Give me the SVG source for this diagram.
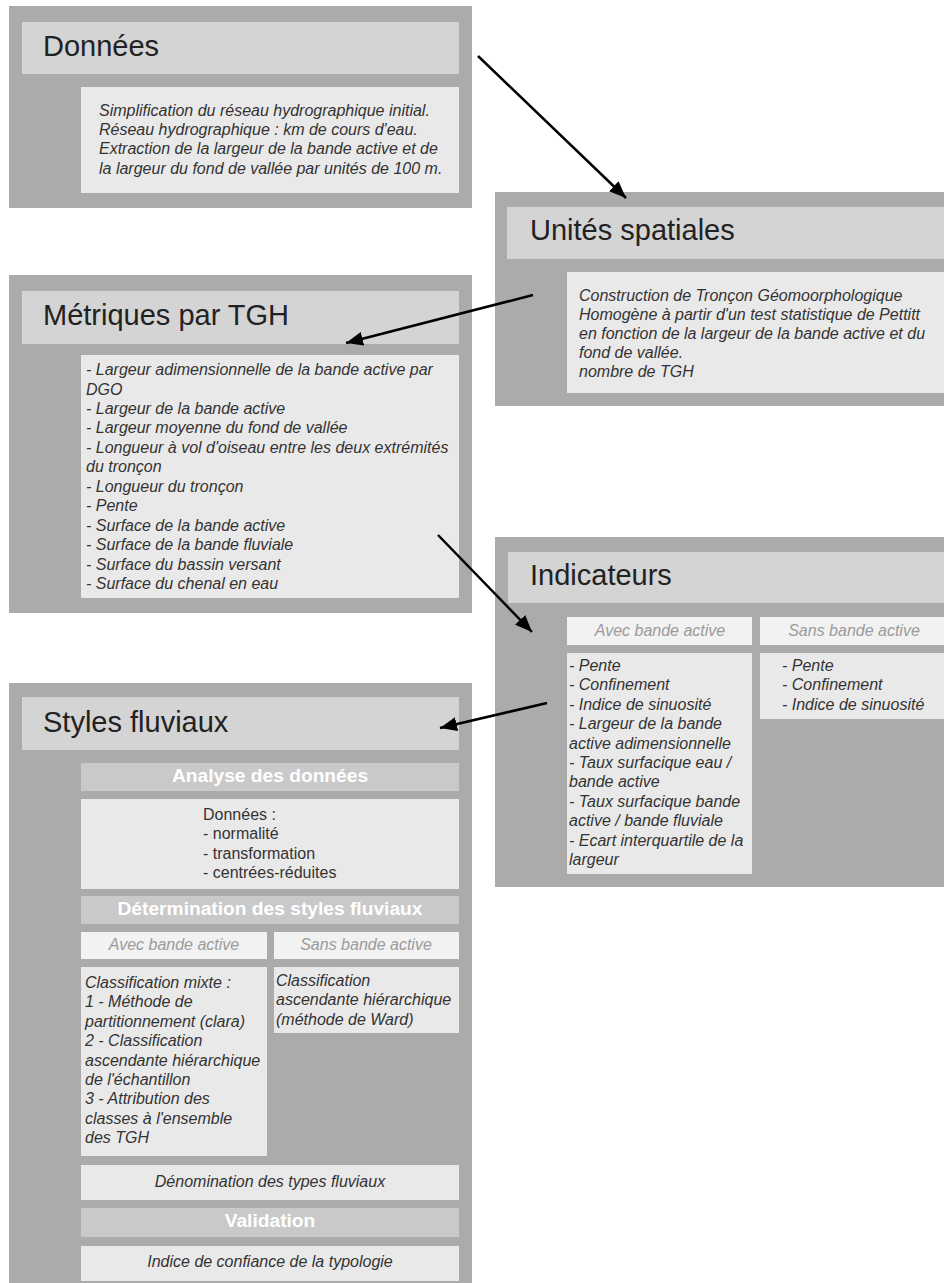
<svg xmlns="http://www.w3.org/2000/svg" width="944" height="1283" viewBox="0 0 944 1283">
<style>
.outer{fill:#aaabaa}
.head{fill:#d4d4d4}
.box{fill:#eae9e9}
.bar{fill:#c9c9c9}
.lite{fill:#f2f2f2}
.title{font-family:"Liberation Sans",Arial,sans-serif;font-size:29px;fill:#222}
.it{font-family:"Liberation Sans",Arial,sans-serif;font-size:16px;font-style:italic;fill:#333}
.rg{font-family:"Liberation Sans",Arial,sans-serif;font-size:16px;fill:#333}
.gr{font-family:"Liberation Sans",Arial,sans-serif;font-size:16px;font-style:italic;fill:#9a9a9a;text-anchor:middle}
.bw{font-family:"Liberation Sans",Arial,sans-serif;font-size:19.2px;font-weight:bold;fill:#ffffff;text-anchor:middle}
.ctr{text-anchor:middle}
.conn{stroke:#000;stroke-width:2.5;fill:none;marker-end:url(#ah)}
</style>
<defs>
<marker id="ah" markerUnits="userSpaceOnUse" markerWidth="18" markerHeight="14" refX="17" refY="7" orient="auto">
<path d="M0,0 L17,7 L0,14 z" fill="#000"/>
</marker>
</defs>
<rect width="944" height="1283" fill="#ffffff"/>

<g id="donnees">
<rect class="outer" x="9" y="6" width="463" height="202"/>
<rect class="head" x="22" y="22" width="437" height="52"/>
<text class="title" x="43" y="56">Données</text>
<rect class="box" x="81" y="87" width="378" height="106"/>
<text class="it" x="99" y="116">Simplification du réseau hydrographique initial.</text>
<text class="it" x="99" y="135.2">Réseau hydrographique : km de cours d'eau.</text>
<text class="it" x="99" y="154.4">Extraction de la largeur de la bande active et de</text>
<text class="it" x="99" y="173.6">la largeur du fond de vallée par unités de 100 m.</text>
</g>

<g id="unites">
<rect class="outer" x="495" y="192" width="460" height="214"/>
<rect class="head" x="507" y="207" width="450" height="52"/>
<text class="title" x="530" y="240">Unités spatiales</text>
<rect class="box" x="567" y="272" width="390" height="121"/>
<text class="it" x="579" y="301">Construction de Tronçon Géomoorphologique</text>
<text class="it" x="579" y="320">Homogène à partir d'un test statistique de Pettitt</text>
<text class="it" x="579" y="339">en fonction de la largeur de la bande active et du</text>
<text class="it" x="579" y="358">fond de vallée.</text>
<text class="it" x="579" y="377">nombre de TGH</text>
</g>

<g id="metriques">
<rect class="outer" x="9" y="275" width="463" height="338"/>
<rect class="head" x="22" y="291" width="437" height="53"/>
<text class="title" x="43" y="325">Métriques par TGH</text>
<rect class="box" x="81" y="355" width="378" height="243"/>
<text class="it" x="86" y="375">- Largeur adimensionnelle de la bande active par</text>
<text class="it" x="86" y="394.5">DGO</text>
<text class="it" x="86" y="414">- Largeur de la bande active</text>
<text class="it" x="86" y="433.4">- Largeur moyenne du fond de vallée</text>
<text class="it" x="86" y="452.9">- Longueur à vol d'oiseau entre les deux extrémités</text>
<text class="it" x="86" y="472.4">du tronçon</text>
<text class="it" x="86" y="491.8">- Longueur du tronçon</text>
<text class="it" x="86" y="511.3">- Pente</text>
<text class="it" x="86" y="530.8">- Surface de la bande active</text>
<text class="it" x="86" y="550.2">- Surface de la bande fluviale</text>
<text class="it" x="86" y="569.7">- Surface du bassin versant</text>
<text class="it" x="86" y="589.2">- Surface du chenal en eau</text>
</g>

<g id="indicateurs">
<rect class="outer" x="495" y="537" width="460" height="350"/>
<rect class="head" x="508" y="552" width="450" height="51"/>
<text class="title" x="530" y="585">Indicateurs</text>
<rect class="lite" x="567" y="617" width="185" height="28"/>
<text class="gr" x="660" y="636">Avec bande active</text>
<rect class="lite" x="760" y="617" width="200" height="28"/>
<text class="gr" x="854" y="636">Sans bande active</text>
<rect class="box" x="567" y="653" width="185" height="221"/>
<text class="it" x="569" y="671">- Pente</text>
<text class="it" x="569" y="690.4">- Confinement</text>
<text class="it" x="569" y="709.8">- Indice de sinuosité</text>
<text class="it" x="569" y="729.2">- Largeur de la bande</text>
<text class="it" x="569" y="748.6">active adimensionnelle</text>
<text class="it" x="569" y="768">- Taux surfacique eau /</text>
<text class="it" x="569" y="787.4">bande active</text>
<text class="it" x="569" y="806.8">- Taux surfacique bande</text>
<text class="it" x="569" y="826.2">active / bande fluviale</text>
<text class="it" x="569" y="845.6">- Ecart interquartile de la</text>
<text class="it" x="569" y="865">largeur</text>
<rect class="box" x="760" y="653" width="200" height="66"/>
<text class="it" x="782" y="671">- Pente</text>
<text class="it" x="782" y="690.4">- Confinement</text>
<text class="it" x="782" y="709.8">- Indice de sinuosité</text>
</g>

<g id="styles">
<rect class="outer" x="9" y="683" width="463" height="610"/>
<rect class="head" x="22" y="697" width="437" height="53"/>
<text class="title" x="43" y="732">Styles fluviaux</text>
<rect class="bar" x="81" y="763" width="378" height="28"/>
<text class="bw" x="270" y="782">Analyse des données</text>
<rect class="box" x="81" y="799" width="378" height="90"/>
<text class="rg" x="203" y="820">Données :</text>
<text class="rg" x="203" y="839.4">- normalité</text>
<text class="rg" x="203" y="858.8">- transformation</text>
<text class="rg" x="203" y="878.2">- centrées-réduites</text>
<rect class="bar" x="81" y="896" width="378" height="28"/>
<text class="bw" x="270" y="915">Détermination des styles fluviaux</text>
<rect class="lite" x="81" y="932" width="186" height="27"/>
<text class="gr" x="174" y="950">Avec bande active</text>
<rect class="lite" x="274" y="932" width="185" height="27"/>
<text class="gr" x="366" y="950">Sans bande active</text>
<rect class="box" x="81" y="967" width="186" height="189"/>
<text class="it" x="85" y="988">Classification mixte :</text>
<text class="it" x="85" y="1007.4">1 - Méthode de</text>
<text class="it" x="85" y="1026.8">partitionnement (clara)</text>
<text class="it" x="85" y="1046.2">2 - Classification</text>
<text class="it" x="85" y="1065.6">ascendante hiérarchique</text>
<text class="it" x="85" y="1085">de l'échantillon</text>
<text class="it" x="85" y="1104.4">3 - Attribution des</text>
<text class="it" x="85" y="1123.8">classes à l'ensemble</text>
<text class="it" x="85" y="1143.2">des TGH</text>
<rect class="box" x="274" y="967" width="185" height="66"/>
<text class="it" x="276" y="986">Classification</text>
<text class="it" x="276" y="1005.4">ascendante hiérarchique</text>
<text class="it" x="276" y="1024.8">(méthode de Ward)</text>
<rect class="box" x="81" y="1165" width="378" height="35"/>
<text class="it ctr" x="270" y="1187">Dénomination des types fluviaux</text>
<rect class="bar" x="81" y="1208" width="378" height="29"/>
<text class="bw" x="270" y="1227">Validation</text>
<rect class="box" x="81" y="1246" width="378" height="35"/>
<text class="it ctr" x="270" y="1267">Indice de confiance de la typologie</text>
</g>

<g id="connectors">
<line class="conn" x1="478" y1="56" x2="626" y2="198"/>
<line class="conn" x1="533" y1="295" x2="346" y2="343"/>
<line class="conn" x1="438" y1="535" x2="532" y2="632"/>
<line class="conn" x1="547" y1="703" x2="440" y2="728"/>
</g>
</svg>
